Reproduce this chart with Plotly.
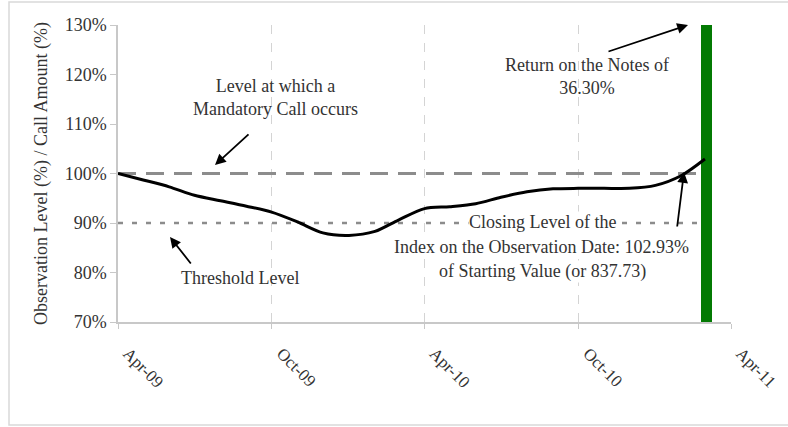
import plotly.graph_objects as go

# ---- data ----
dates = ["2009-04-01", "2009-05-01", "2009-06-01", "2009-07-01", "2009-08-01", "2009-09-01",
         "2009-10-01", "2009-11-01", "2009-12-01", "2010-01-01", "2010-02-01", "2010-03-01",
         "2010-04-01", "2010-05-01", "2010-06-01", "2010-07-01", "2010-08-01", "2010-09-01",
         "2010-10-01", "2010-11-01", "2010-12-01", "2011-01-01", "2011-02-01", "2011-03-01"]
index_level = [100.0, 98.7, 97.3, 95.6, 94.5, 93.4, 92.2, 90.2, 88.0, 87.5, 88.3, 90.6,
               92.9, 93.3, 93.9, 95.2, 96.3, 96.9, 97.0, 97.0, 97.0, 97.6, 99.6, 102.93]
ref_dates = ["2009-04-01", "2011-03-01"]
call_level = [100, 100]
threshold_level = [90, 90]
bar_date = ["2011-03-03"]
bar_value = [136.30]
tick_vals = ["2009-04-01", "2009-10-01", "2010-04-01", "2010-10-01", "2011-04-01"]
tick_text = ["Apr-09", "Oct-09", "Apr-10", "Oct-10", "Apr-11"]
y_ticks = [70, 80, 90, 100, 110, 120, 130]

FONT = "Liberation Serif, Times New Roman, serif"
TXT = "#333333"

fig = go.Figure()
fig.add_trace(go.Bar(x=bar_date, y=[v - 70 for v in bar_value], base=70,
                     width=13 * 24 * 3600 * 1000, marker=dict(color="#037a03", line=dict(width=0)),
                     showlegend=False, hoverinfo="skip"))
fig.add_trace(go.Scatter(x=ref_dates, y=call_level, mode="lines",
                         line=dict(color="#8c8c8c", width=3, dash="18px,10px"),
                         showlegend=False))
fig.add_trace(go.Scatter(x=ref_dates, y=threshold_level, mode="lines",
                         line=dict(color="#8c8c8c", width=2.5, dash="5px,9px"),
                         showlegend=False))
fig.add_trace(go.Scatter(x=dates, y=index_level, mode="lines",
                         line=dict(color="black", width=3, shape="spline", smoothing=0.8),
                         showlegend=False))

L, R, T, B = 118, 731, 25, 322
W, H = R - L, B - T


def px(x):
    return (x - L) / W


def py(y):
    return (B - y) / H


def text_ann(txt, x, y, bg=None):
    d = dict(text=txt, x=px(x), y=py(y), xref="paper", yref="paper", showarrow=False,
             font=dict(family=FONT, size=18, color=TXT), align="center",
             xanchor="center", yanchor="middle", borderpad=0)
    if bg:
        d["bgcolor"] = bg
    fig.add_annotation(**d)


def arrow(hx, hy, tx, ty):
    fig.add_annotation(text="", x=px(hx), y=py(hy), xref="paper", yref="paper",
                       showarrow=True, ax=tx - hx, ay=ty - hy, axref="pixel", ayref="pixel",
                       arrowhead=2, arrowsize=1.2, arrowwidth=1.8, arrowcolor="black")


text_ann("Level at which a<br>Mandatory Call occurs", 275, 97)
arrow(215, 165, 250, 133)
text_ann("Threshold Level", 240, 278)
arrow(170, 237, 192, 265)
text_ann("Return on the Notes of<br>36.30%", 587, 76)
arrow(688, 25, 607, 52)
text_ann("Closing Level of the", 542, 222, bg="white")
text_ann("Index on the Observation Date: 102.93%", 541, 247, bg="white")
text_ann("of Starting Value (or 837.73)", 542, 271, bg="white")
arrow(684, 172, 677, 228)

# outer border
fig.add_shape(type="rect", xref="paper", yref="paper",
              x0=px(9), x1=px(800), y0=py(425), y1=py(2),
              line=dict(color="#d9d9d9", width=1.5), fillcolor="rgba(0,0,0,0)", layer="below")

fig.update_layout(
    width=788, height=427,
    margin=dict(l=L, r=788 - R, t=T, b=427 - B, autoexpand=False),
    paper_bgcolor="white", plot_bgcolor="white",
    font=dict(family=FONT, size=17, color=TXT),
    bargap=0,
)
fig.update_xaxes(type="date", range=["2009-04-01", "2011-04-01"],
                 tickvals=tick_vals, ticktext=tick_text, tickangle=45,
                 showgrid=True, gridcolor="#d4d4d4", griddash="dash", gridwidth=1,
                 showline=True, linecolor="#c8c8c8", linewidth=1.5,
                 ticks="outside", ticklen=5, tickcolor="#c8c8c8", automargin=False,
                 ticklabelstandoff=8, ticklabelshift=10,
                 tickfont=dict(family=FONT, size=17, color=TXT), zeroline=False)
fig.update_yaxes(range=[70, 130], tickvals=y_ticks, ticktext=[f"{v}%" for v in y_ticks],
                 showgrid=False, showline=True, linecolor="#c8c8c8", linewidth=1.5,
                 ticks="outside", ticklen=6, tickcolor="#c8c8c8", automargin=False,
                 tickfont=dict(family=FONT, size=18, color=TXT), zeroline=False,
                 title=dict(text="Observation Level (%) / Call Amount (%)",
                            font=dict(family=FONT, size=18, color=TXT), standoff=12))

fig.write_html("out.html", config={"displayModeBar": False},
               post_script="document.body.style.margin='0';")
